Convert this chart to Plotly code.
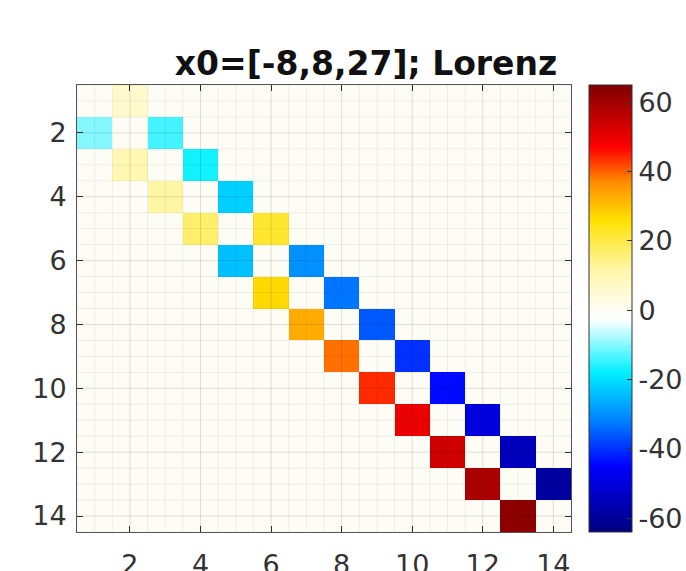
import numpy as np
import plotly.graph_objects as go

n = 14
# super-diagonal values: entry (i, i+1), i = 1..13
upper_vals = [6, -14, -17, -22, 22, -30, -33, -36, -40, -44, -50, -55, -59]
# sub-diagonal values: entry (i+1, i), i = 1..13
lower_vals = [-10, 10, 12, 17, -24, 27, 33, 39, 44, 50, 54, 59, 63]
tick_vals = [2, 4, 6, 8, 10, 12, 14]
cbar_ticks = [-60, -40, -20, 0, 20, 40, 60]
cbar_labels = ["-60", "-40", "-20", "0", "20", "40", "60"]
title_text = "x0=[-8,8,27]; Lorenz"

Z = np.zeros((n, n))
for i, v in enumerate(upper_vals):
    Z[i, i + 1] = v
for i, v in enumerate(lower_vals):
    Z[i + 1, i] = v

zmin, zmax = -64, 65
def s(v):
    return (v - zmin) / (zmax - zmin)

colorscale = [
    [0.0, "rgb(0,0,128)"],
    [s(-45), "rgb(0,0,255)"],
    [s(-32), "rgb(0,128,255)"],
    [s(-18), "rgb(0,240,255)"],
    [s(-3), "rgb(250,255,255)"],
    [s(0), "rgb(254,253,245)"],
    [s(12), "rgb(255,246,165)"],
    [s(26), "rgb(255,225,0)"],
    [s(37), "rgb(255,140,0)"],
    [s(47), "rgb(255,0,0)"],
    [1.0, "rgb(128,0,0)"],
]

idx = list(range(1, n + 1))
fig = go.Figure(go.Heatmap(
    z=Z, x=idx, y=idx, colorscale=colorscale, zmin=zmin, zmax=zmax,
    showscale=True,
    colorbar=dict(
        x=589 / 686, xref="container", xanchor="left", xpad=0,
        y=0.5, yanchor="middle", len=1, lenmode="fraction", ypad=0,
        thickness=43, outlinecolor="#333", outlinewidth=1,
        tickvals=cbar_ticks, ticktext=cbar_labels,
        ticks="inside", ticklen=5, tickcolor="#333",
        tickfont=dict(family="DejaVu Sans", size=27, color="#333"),
    ),
))

# grid lines drawn above the cells (MATLAB style)
shapes = []
for k in np.arange(0.5, n + 0.51, 0.5):
    major = abs(k - round(k)) < 1e-9 and int(round(k)) % 2 == 0
    col = "rgba(0,0,0,0.12)" if major else "rgba(0,0,0,0.06)"
    shapes.append(dict(type="line", xref="x", yref="y", x0=k, x1=k, y0=0.5, y1=n + 0.5,
                       line=dict(color=col, width=1), layer="above"))
    shapes.append(dict(type="line", xref="x", yref="y", y0=k, y1=k, x0=0.5, x1=n + 0.5,
                       line=dict(color=col, width=1), layer="above"))

axis_common = dict(
    showgrid=False, zeroline=False, showline=True, linecolor="#555", linewidth=1,
    mirror="ticks", ticks="inside", ticklen=6, tickcolor="#333", automargin=False,
    tickvals=tick_vals, tickfont=dict(family="DejaVu Sans", size=27, color="#333"),
)

fig.update_layout(
    width=686, height=571,
    margin=dict(l=77, r=115, t=85, b=39, autoexpand=False),
    paper_bgcolor="white", plot_bgcolor="white",
    shapes=shapes,
    title=dict(text="<b>" + title_text + "</b>", x=366 / 686, xanchor="center",
               y=1 - 63 / 571, yanchor="middle", yref="container", automargin=False,
               font=dict(family="DejaVu Sans", size=33, color="#111")),
    xaxis=dict(range=[0.5, n + 0.5], ticklabelstandoff=9, **axis_common),
    yaxis=dict(range=[n + 0.5, 0.5], ticklabelstandoff=4, **axis_common),
)

fig.write_html("out.html")
